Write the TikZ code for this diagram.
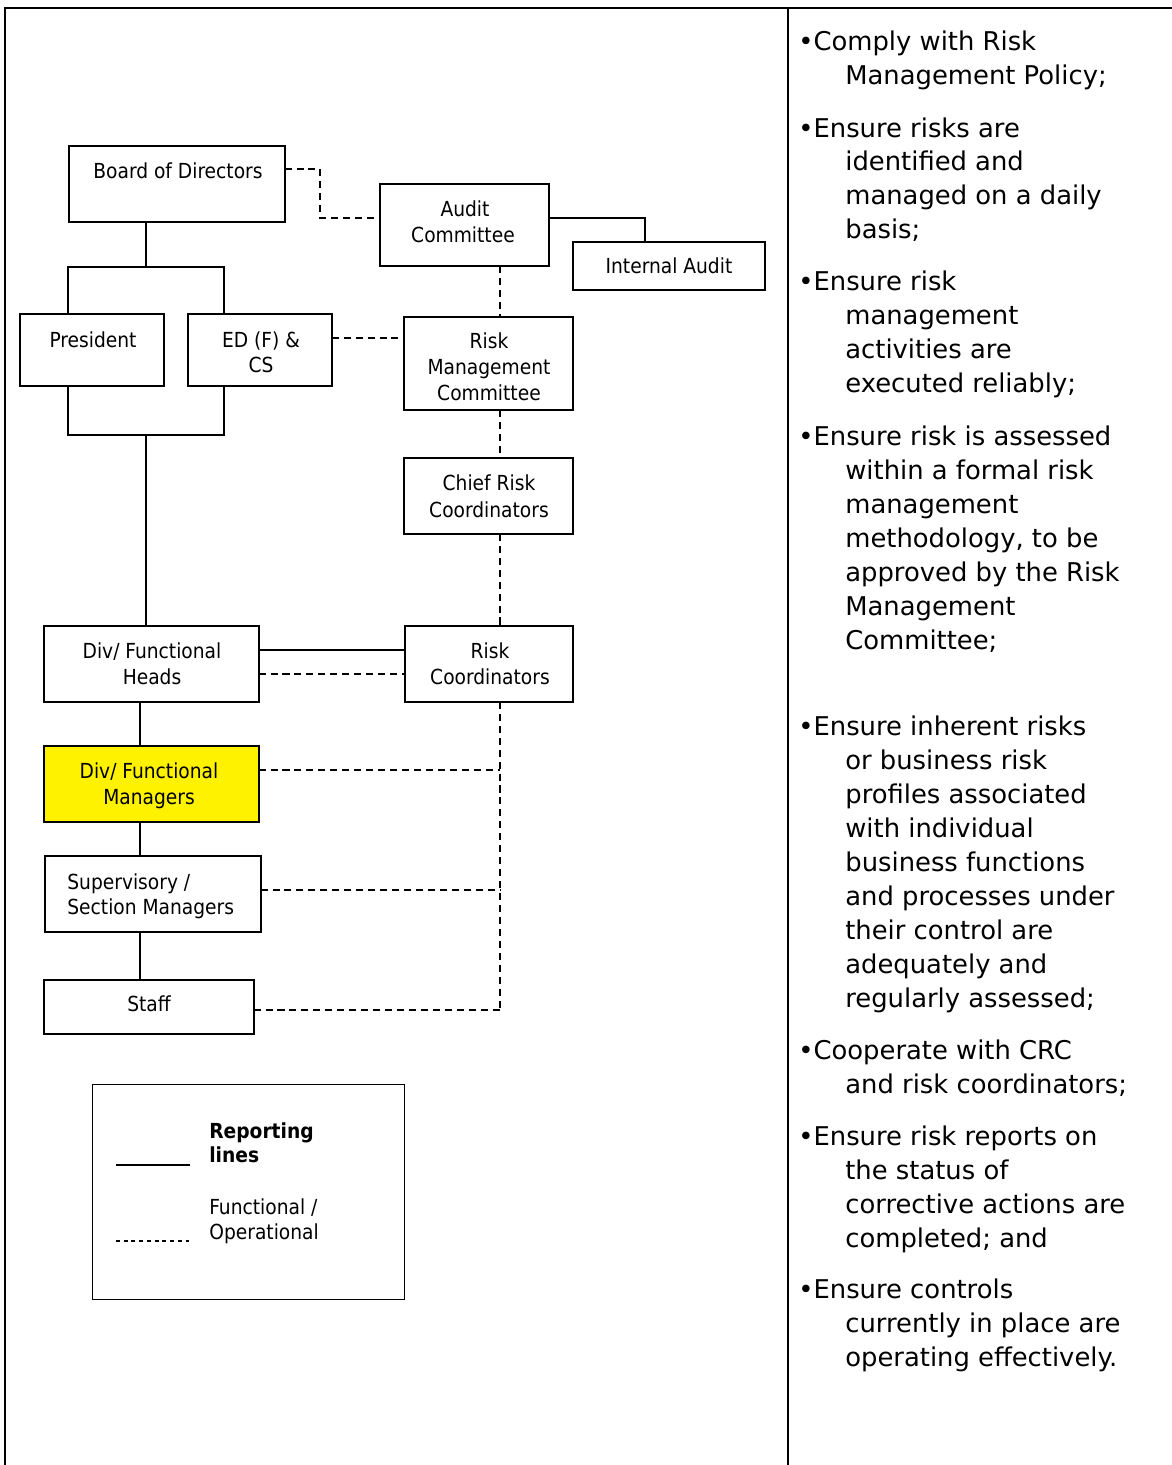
\documentclass[tikz,border=0pt]{standalone}
\usepackage{fontspec}
\setmainfont{DejaVu Sans Condensed}
\newfontfamily\colfont{DejaVu Sans}
\usetikzlibrary{calc}

% box given by its corners (in px units)
\newcommand\bx[6][]{%
  \node[box,#1,minimum width={(#5-#3)*0.56693pt},minimum height={(#6-#4)*0.56693pt}]
    (#2) at ({(#3+#5)/2},{(#4+#6)/2}) {};}

\begin{document}
\begin{tikzpicture}[x=0.02cm,y=-0.02cm,
  box/.style={draw,line width=1.1pt,inner sep=0pt,outer sep=0pt,fill=white},
  lbl/.style={inner sep=0pt,font=\fontsize{11.8}{14}\selectfont,anchor=base},
  lbll/.style={lbl,anchor=base west},
  rep/.style={line width=0.85pt},
  fun/.style={line width=0.85pt,dash pattern=on 4pt off 2.8pt},
  item/.style={inner sep=0pt,anchor=base west,font=\colfont\fontsize{14.7}{18}\selectfont},
  frame/.style={line width=1.5pt}]
\useasboundingbox (0,0) rectangle (1172,1465);

% outer frame and column divider
\draw[frame] (5,1470) -- (5,8) -- (1176,8);
\draw[frame] (788,8) -- (788,1470);

% boxes
\bx{board}{69}{146}{285}{222}
\bx{audit}{380}{184}{549}{266}
\bx{ia}{573}{242}{765}{290}
\bx{pres}{20}{314}{164}{386}
\bx{ed}{188}{314}{332}{386}
\bx{rmc}{404}{317}{573}{410}
\bx{crc}{404}{458}{573}{534}
\bx{heads}{44}{626}{259}{702}
\bx{rc}{405}{626}{573}{702}
\bx[fill=yellow]{mgrs}{44}{746}{259}{822}
\bx{sup}{45}{856}{261}{932}
\bx{staff}{44}{980}{254}{1034}
\bx[line width=0.9pt]{legend}{92}{1084}{405}{1300}

% box texts
\node[lbl] (t-board) at (178,178) {Board of Directors};
\node[lbl] (t-audit1) at (465,216) {Audit};
\node[lbl] (t-audit2) at (463,242) {Committee};
\node[lbl] (t-ia) at (669,273) {Internal Audit};
\node[lbl] (t-pres) at (93,347) {President};
\node[lbl] (t-ed1) at (261,347) {ED (F) \&};
\node[lbl] (t-ed2) at (261,372) {CS};
\node[lbl] (t-rmc1) at (489,348) {Risk};
\node[lbl] (t-rmc2) at (489,374) {Management};
\node[lbl] (t-rmc3) at (489,400) {Committee};
\node[lbl] (t-crc1) at (489,490) {Chief Risk};
\node[lbl] (t-crc2) at (489,517) {Coordinators};
\node[lbl] (t-heads1) at (152,658) {Div/ Functional};
\node[lbl] (t-heads2) at (152,684) {Heads};
\node[lbl] (t-rc1) at (490,658) {Risk};
\node[lbl] (t-rc2) at (490,684) {Coordinators};
\node[lbl] (t-mgrs1) at (149,778) {Div/ Functional};
\node[lbl] (t-mgrs2) at (149,804) {Managers};
\node[lbll] (t-sup1) at (67,889) {Supervisory /};
\node[lbll] (t-sup2) at (67,914) {Section Managers};
\node[lbl] (t-staff) at (149,1011) {Staff};

% reporting lines (solid)
\coordinate (bd) at (146,267);
\coordinate (bl) at (68,267);
\coordinate (br) at (224,267);
\draw[rep] (bd |- board.south) -- (bd);
\draw[rep] (bl |- pres.north) -- (bl) -- (br) -- (br |- ed.north);
\coordinate (pl) at (68,435);
\coordinate (pr) at (224,435);
\coordinate (pd) at (146,435);
\draw[rep] (pl |- pres.south) -- (pl) -- (pr) -- (pr |- ed.south);
\draw[rep] (pd) -- (pd |- heads.north);
\coordinate (ac) at (645,218);
\draw[rep] (audit.east |- ac) -- (ac) -- (ac |- ia.north);
\draw[rep] (heads.east |- 0,650) -- (rc.west |- 0,650);
\coordinate (cl) at (140,0);
\draw[rep] (cl |- heads.south) -- (cl |- mgrs.north);
\draw[rep] (cl |- mgrs.south) -- (cl |- sup.north);
\draw[rep] (cl |- sup.south) -- (cl |- staff.north);

% functional / operational lines (dashed)
\coordinate (k1) at (320,169);
\coordinate (k2) at (320,218);
\draw[fun] (k1 -| board.east) -- (k1) -- (k2) -- (k2 -| audit.west);
\draw[fun] (ed.east |- 0,338) -- (rmc.west |- 0,338);
\coordinate (dv) at (500,0);
\draw[fun] (dv |- audit.south) -- (dv |- rmc.north);
\draw[fun] (dv |- rmc.south) -- (dv |- crc.north);
\draw[fun] (dv |- crc.south) -- (dv |- rc.north);
\draw[fun] (heads.east |- 0,674) -- (rc.west |- 0,674);
\coordinate (dend) at (500,1010);
\draw[fun] (dv |- rc.south) -- (dend);
\draw[fun] (mgrs.east |- 0,770) -- (dv |- 0,770);
\draw[fun] (sup.east |- 0,890) -- (dv |- 0,890);
\draw[fun] (staff.east |- dend) -- (dend);

% legend
\coordinate (ls1) at (116,1165);
\coordinate (ls2) at (190,1165);
\coordinate (ld1) at (116,1241);
\coordinate (ld2) at (190,1241);
\draw[line width=1.5pt] (ls1) -- (ls2);
\draw[line width=0.8pt,dash pattern=on 2.2pt off 2.2pt] (ld1) -- (ld2);
\node[lbll,font=\fontsize{11.8}{14}\selectfont\bfseries] (l-rep1) at (209,1138) {Reporting};
\node[lbll,font=\fontsize{11.8}{14}\selectfont\bfseries] (l-rep2) at (209,1162) {lines};
\node[lbll] (l-fun1) at (209,1214) {Functional /};
\node[lbll] (l-fun2) at (209,1239) {Operational};

% responsibilities column
\foreach \yy/\xx/\tx [count=\n] in {
  50/798/{\textbullet Comply with Risk},
  84/845/{Management Policy;},
  137/798/{\textbullet Ensure risks are},
  170/845/{identified and},
  204/845/{managed on a daily},
  238/845/{basis;},
  290/798/{\textbullet Ensure risk},
  324/845/{management},
  358/845/{activities are},
  392/845/{executed reliably;},
  445/798/{\textbullet Ensure risk is assessed},
  479/845/{within a formal risk},
  513/845/{management},
  547/845/{methodology, to be},
  581/845/{approved by the Risk},
  615/845/{Management},
  649/845/{Committee;},
  735/798/{\textbullet Ensure inherent risks},
  769/845/{or business risk},
  803/845/{profiles associated},
  837/845/{with individual},
  871/845/{business functions},
  905/845/{and processes under},
  939/845/{their control are},
  973/845/{adequately and},
  1007/845/{regularly assessed;},
  1059/798/{\textbullet Cooperate with CRC},
  1093/845/{and risk coordinators;},
  1145/798/{\textbullet Ensure risk reports on},
  1179/845/{the status of},
  1213/845/{corrective actions are},
  1247/845/{completed; and},
  1298/798/{\textbullet Ensure controls},
  1332/845/{currently in place are},
  1366/845/{operating effectively.}}
  \node[item] (line\n) at (\xx,\yy) {\tx};
\end{tikzpicture}
\end{document}
